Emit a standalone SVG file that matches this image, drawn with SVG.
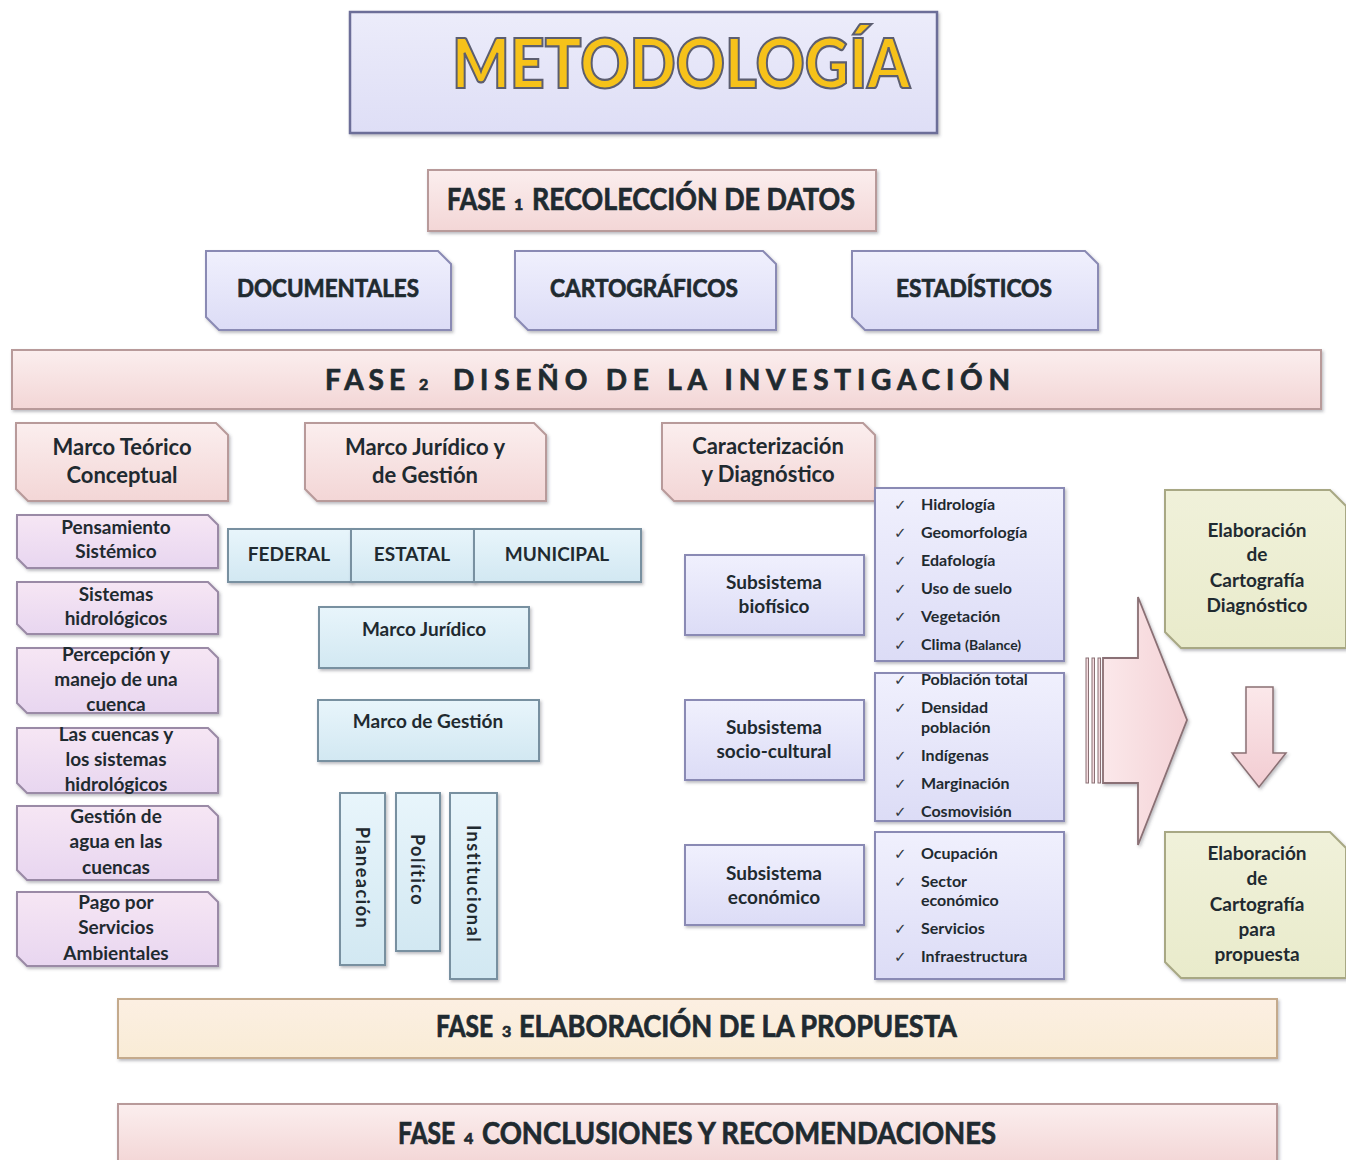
<svg xmlns="http://www.w3.org/2000/svg" width="1346" height="1160" viewBox="0 0 1346 1160">
<defs>
<filter id="sh" x="-10%" y="-10%" width="120%" height="130%"><feDropShadow dx="1.5" dy="2" stdDeviation="1.5" flood-color="#404050" flood-opacity="0.35"/></filter>
<linearGradient id="gTitle" x1="0" y1="0" x2="0" y2="1"><stop offset="0" stop-color="#ececfa"/><stop offset="1" stop-color="#dedef6"/></linearGradient>
<linearGradient id="gPink" x1="0" y1="0" x2="0" y2="1"><stop offset="0" stop-color="#fbeeee"/><stop offset="1" stop-color="#f3d6d6"/></linearGradient>
<linearGradient id="gLav" x1="0" y1="0" x2="0" y2="1"><stop offset="0" stop-color="#f0f0fd"/><stop offset="1" stop-color="#dcdcf6"/></linearGradient>
<linearGradient id="gMauve" x1="0" y1="0" x2="0" y2="1"><stop offset="0" stop-color="#f6e6f4"/><stop offset="1" stop-color="#e8d6f0"/></linearGradient>
<linearGradient id="gBlue" x1="0" y1="0" x2="0" y2="1"><stop offset="0" stop-color="#e8f5fb"/><stop offset="1" stop-color="#d2e8f2"/></linearGradient>
<linearGradient id="gOlive" x1="0" y1="0" x2="0" y2="1"><stop offset="0" stop-color="#f0f1da"/><stop offset="1" stop-color="#e9ebcb"/></linearGradient>
<linearGradient id="gPeach" x1="0" y1="0" x2="0" y2="1"><stop offset="0" stop-color="#fcefe2"/><stop offset="1" stop-color="#f9ecd6"/></linearGradient>
<linearGradient id="gArrow" x1="0" y1="0" x2="1" y2="0"><stop offset="0" stop-color="#fbe8ea"/><stop offset="1" stop-color="#f4d2d6"/></linearGradient>
<linearGradient id="gArrowV" x1="0" y1="0" x2="0" y2="1"><stop offset="0" stop-color="#fbe8ea"/><stop offset="1" stop-color="#f2ccd2"/></linearGradient>
</defs>
<style>
text{font-family:Lato,"Open Sans","DejaVu Sans",sans-serif;font-weight:bold;fill:#1f2a30}
.c{text-anchor:middle}
.pink{fill:url(#gPink);stroke:#b89a9a;stroke-width:2;filter:url(#sh)}
.lav{fill:url(#gLav);stroke:#8a8ab4;stroke-width:2;filter:url(#sh)}
.mauve{fill:url(#gMauve);stroke:#9a8aa6;stroke-width:2;filter:url(#sh)}
.blue{fill:url(#gBlue);stroke:#7890a0;stroke-width:2;filter:url(#sh)}
.olive{fill:url(#gOlive);stroke:#a8a884;stroke-width:2;filter:url(#sh)}
.peach{fill:url(#gPeach);stroke:#c4aa8c;stroke-width:2;filter:url(#sh)}
.arrow{fill:url(#gArrow);stroke:#8a7074;stroke-width:1.8;filter:url(#sh)}
.hv{stroke:#1f2a30;stroke-width:0.7}
.h1{font-size:30px}
.sm{font-size:16px}
.h2{font-size:24px}
.t22{font-size:22px}
.t19{font-size:19px}
.t18{font-size:18px}
.li{font-size:16px}
.ck{font-size:15px;font-weight:normal;font-family:"DejaVu Sans",sans-serif;fill:#303840}
</style>

<g id="title">
<rect x="350" y="12" width="587" height="121" fill="url(#gTitle)" stroke="#6c6e98" stroke-width="2.5" filter="url(#sh)"/>
<text x="452" y="88" font-size="68" textLength="458" lengthAdjust="spacingAndGlyphs" style="fill:#f6c21a;stroke:#5c5e70;stroke-width:2.2;font-weight:900;font-family:Lato,'DejaVu Sans',sans-serif">METODOLOGÍA</text>
</g>

<g id="fase1">
<rect x="428" y="170" width="448" height="61" class="pink"/>
<text transform="translate(447 210) scale(0.84 1)" class="h1 hv">FASE</text>
<text x="514" y="210" class="sm hv">1</text>
<text x="532" y="210" class="h1 hv" textLength="323" lengthAdjust="spacingAndGlyphs">RECOLECCIÓN DE DATOS</text>
</g>

<g id="documentales">
<polygon points="206,251 438,251 451,264 451,330 219,330 206,317" class="lav"/>
<text x="328" y="297" class="h2 c hv" textLength="182" lengthAdjust="spacingAndGlyphs">DOCUMENTALES</text>
</g>
<g id="cartograficos">
<polygon points="515,251 763,251 776,264 776,330 528,330 515,317" class="lav"/>
<text x="644" y="297" class="h2 c hv" textLength="188" lengthAdjust="spacingAndGlyphs">CARTOGRÁFICOS</text>
</g>
<g id="estadisticos">
<polygon points="852,251 1085,251 1098,264 1098,330 865,330 852,317" class="lav"/>
<text x="974" y="297" class="h2 c hv" textLength="156" lengthAdjust="spacingAndGlyphs">ESTADÍSTICOS</text>
</g>

<g id="fase2">
<rect x="12" y="350" width="1309" height="59" class="pink"/>
<text x="325" y="390" font-size="28" class="hv" textLength="80" lengthAdjust="spacing">FASE</text>
<text x="419" y="390" class="sm hv">2</text>
<text x="453" y="390" font-size="28" class="hv" textLength="557" lengthAdjust="spacing">DISEÑO DE LA INVESTIGACIÓN</text>
</g>

<g id="marco-teorico">
<polygon points="16,423 216,423 228,435 228,501 28,501 16,489" class="pink"/>
<text x="122" y="455" class="t22 c">Marco Teórico</text>
<text x="122" y="483" class="t22 c">Conceptual</text>
</g>
<g id="marco-juridico-gestion">
<polygon points="305,423 534,423 546,435 546,501 317,501 305,489" class="pink"/>
<text x="425" y="455" class="t22 c">Marco Jurídico y</text>
<text x="425" y="483" class="t22 c">de Gestión</text>
</g>
<g id="caracterizacion">
<polygon points="662,423 863,423 875,435 875,501 674,501 662,489" class="pink"/>
<text x="768" y="454" class="t22 c">Caracterización</text>
<text x="768" y="482" class="t22 c">y Diagnóstico</text>
</g>

<g id="pensamiento">
<polygon points="17,515 208,515 218,525 218,568 27,568 17,558" class="mauve"/>
<text x="116" y="534" class="t19 c">Pensamiento</text>
<text x="116" y="558" class="t19 c">Sistémico</text>
</g>
<g id="sistemas-hidro">
<polygon points="17,582 208,582 218,592 218,634 27,634 17,624" class="mauve"/>
<text x="116" y="601" class="t19 c">Sistemas</text>
<text x="116" y="625" class="t19 c">hidrológicos</text>
</g>
<g id="percepcion">
<polygon points="17,648 208,648 218,658 218,713 27,713 17,703" class="mauve"/>
<text x="116" y="661" class="t19 c">Percepción y</text>
<text x="116" y="686" class="t19 c">manejo de una</text>
<text x="116" y="711" class="t19 c">cuenca</text>
</g>
<g id="las-cuencas">
<polygon points="17,728 208,728 218,738 218,793 27,793 17,783" class="mauve"/>
<text x="116" y="741" class="t19 c">Las cuencas y</text>
<text x="116" y="766" class="t19 c">los sistemas</text>
<text x="116" y="791" class="t19 c">hidrológicos</text>
</g>
<g id="gestion-agua">
<polygon points="17,806 208,806 218,816 218,880 27,880 17,870" class="mauve"/>
<text x="116" y="823" class="t19 c">Gestión de</text>
<text x="116" y="848" class="t19 c">agua en las</text>
<text x="116" y="874" class="t19 c">cuencas</text>
</g>
<g id="pago">
<polygon points="17,892 208,892 218,902 218,966 27,966 17,956" class="mauve"/>
<text x="116" y="909" class="t19 c">Pago por</text>
<text x="116" y="934" class="t19 c">Servicios</text>
<text x="116" y="960" class="t19 c">Ambientales</text>
</g>

<g id="federal">
<rect x="228" y="529" width="123" height="53" class="blue"/>
<text x="289" y="561" class="t19 c">FEDERAL</text>
</g>
<g id="estatal">
<rect x="351" y="529" width="123" height="53" class="blue"/>
<text x="412" y="561" class="t19 c">ESTATAL</text>
</g>
<g id="municipal">
<rect x="474" y="529" width="167" height="53" class="blue"/>
<text x="557" y="561" class="t19 c">MUNICIPAL</text>
</g>
<g id="marco-juridico">
<rect x="319" y="607" width="210" height="61" class="blue"/>
<text x="424" y="636" class="t19 c">Marco Jurídico</text>
</g>
<g id="marco-gestion">
<rect x="318" y="700" width="221" height="61" class="blue"/>
<text x="428" y="728" class="t19 c">Marco de Gestión</text>
</g>
<g id="planeacion">
<rect x="340" y="793" width="45" height="172" class="blue"/>
<text x="0" y="0" class="t18 c" transform="translate(356 878) rotate(90)" letter-spacing="1.5">Planeación</text>
</g>
<g id="politico">
<rect x="396" y="793" width="44" height="158" class="blue"/>
<text x="0" y="0" class="t18 c" transform="translate(411 870) rotate(90)" letter-spacing="1.5">Político</text>
</g>
<g id="institucional">
<rect x="450" y="793" width="47" height="186" class="blue"/>
<text x="0" y="0" class="t18 c" transform="translate(467 884) rotate(90)" letter-spacing="1.5">Institucional</text>
</g>

<g id="sub-biofisico">
<rect x="685" y="555" width="179" height="80" class="lav"/>
<text x="774" y="589" class="t19 c">Subsistema</text>
<text x="774" y="613" class="t19 c">biofísico</text>
</g>
<g id="sub-sociocultural">
<rect x="685" y="700" width="179" height="80" class="lav"/>
<text x="774" y="734" class="t19 c">Subsistema</text>
<text x="774" y="758" class="t19 c">socio-cultural</text>
</g>
<g id="sub-economico">
<rect x="685" y="845" width="179" height="80" class="lav"/>
<text x="774" y="880" class="t19 c">Subsistema</text>
<text x="774" y="904" class="t19 c">económico</text>
</g>

<g id="lista-biofisico">
<rect x="875" y="488" width="189" height="173" class="lav"/>
<text x="894" y="510" class="ck">✓</text><text x="921" y="510" class="li">Hidrología</text>
<text x="894" y="538" class="ck">✓</text><text x="921" y="538" class="li">Geomorfología</text>
<text x="894" y="566" class="ck">✓</text><text x="921" y="566" class="li">Edafología</text>
<text x="894" y="594" class="ck">✓</text><text x="921" y="594" class="li">Uso de suelo</text>
<text x="894" y="622" class="ck">✓</text><text x="921" y="622" class="li">Vegetación</text>
<text x="894" y="650" class="ck">✓</text><text x="921" y="650" class="li">Clima <tspan font-size="14">(Balance)</tspan></text>
</g>
<g id="lista-sociocultural">
<rect x="875" y="673" width="189" height="148" class="lav"/>
<text x="894" y="685" class="ck">✓</text><text x="921" y="685" class="li">Población total</text>
<text x="894" y="713" class="ck">✓</text><text x="921" y="713" class="li">Densidad</text>
<text x="921" y="733" class="li">población</text>
<text x="894" y="761" class="ck">✓</text><text x="921" y="761" class="li">Indígenas</text>
<text x="894" y="789" class="ck">✓</text><text x="921" y="789" class="li">Marginación</text>
<text x="894" y="817" class="ck">✓</text><text x="921" y="817" class="li">Cosmovisión</text>
</g>
<g id="lista-economico">
<rect x="875" y="832" width="189" height="147" class="lav"/>
<text x="894" y="859" class="ck">✓</text><text x="921" y="859" class="li">Ocupación</text>
<text x="894" y="887" class="ck">✓</text><text x="921" y="887" class="li">Sector</text>
<text x="921" y="906" class="li">económico</text>
<text x="894" y="934" class="ck">✓</text><text x="921" y="934" class="li">Servicios</text>
<text x="894" y="962" class="ck">✓</text><text x="921" y="962" class="li">Infraestructura</text>
</g>

<g id="connectors">
<polygon points="1103,658 1138,658 1138,597 1187,720 1138,845 1138,783 1103,783" class="arrow"/>
<rect x="1086" y="658" width="2.5" height="125" fill="#f4dade" stroke="#8a7074" stroke-width="1"/>
<rect x="1092" y="658" width="2.5" height="125" fill="#f4dade" stroke="#8a7074" stroke-width="1"/>
<rect x="1098" y="658" width="2.5" height="125" fill="#f4dade" stroke="#8a7074" stroke-width="1"/>
<polygon points="1246,687 1273,687 1273,753 1286,753 1259,787 1232,753 1246,753" fill="url(#gArrowV)" stroke="#8a7074" stroke-width="1.5" filter="url(#sh)"/>
</g>

<g id="elab-diagnostico">
<polygon points="1165,490 1330,490 1346,506 1346,648 1181,648 1165,632" class="olive"/>
<text x="1257" y="537" class="t19 c">Elaboración</text>
<text x="1257" y="561" class="t19 c">de</text>
<text x="1257" y="587" class="t19 c">Cartografía</text>
<text x="1257" y="612" class="t19 c">Diagnóstico</text>
</g>
<g id="elab-propuesta">
<polygon points="1165,832 1330,832 1346,848 1346,978 1181,978 1165,962" class="olive"/>
<text x="1257" y="860" class="t19 c">Elaboración</text>
<text x="1257" y="885" class="t19 c">de</text>
<text x="1257" y="911" class="t19 c">Cartografía</text>
<text x="1257" y="936" class="t19 c">para</text>
<text x="1257" y="961" class="t19 c">propuesta</text>
</g>

<g id="fase3">
<rect x="118" y="999" width="1159" height="59" class="peach"/>
<text transform="translate(436 1037) scale(0.82 1)" class="h1 hv">FASE</text>
<text x="502" y="1037" class="sm hv">3</text>
<text x="519" y="1037" class="h1 hv" textLength="438" lengthAdjust="spacingAndGlyphs">ELABORACIÓN DE LA PROPUESTA</text>
</g>
<g id="fase4">
<rect x="118" y="1104" width="1159" height="60" class="pink"/>
<text transform="translate(398 1144) scale(0.82 1)" class="h1 hv">FASE</text>
<text x="464" y="1144" class="sm hv">4</text>
<text x="482" y="1144" class="h1 hv" textLength="514" lengthAdjust="spacingAndGlyphs">CONCLUSIONES Y RECOMENDACIONES</text>
</g>
</svg>
